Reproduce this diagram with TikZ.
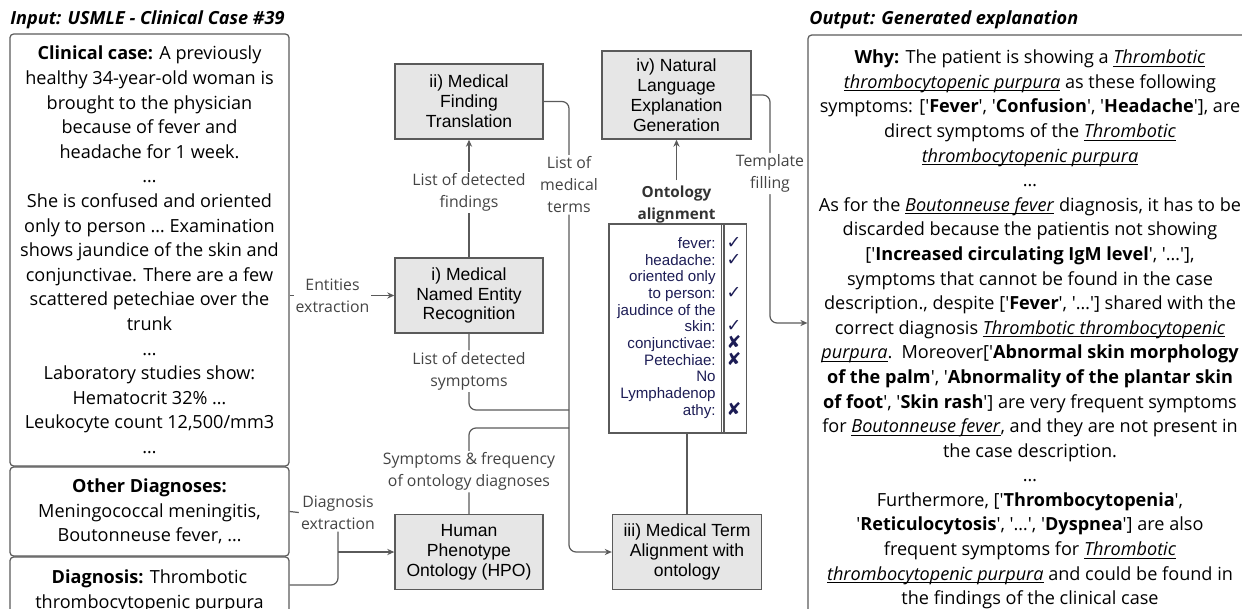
\documentclass[tikz,border=0pt]{standalone}
\usepackage{fontspec}
\setmainfont{Open Sans}[Ligatures=TeXOff]
\newfontfamily\arialfont{Liberation Sans}
\newfontfamily\symfont{DejaVu Sans}
\usetikzlibrary{arrows.meta}

\definecolor{linegray}{HTML}{5A5A5A}
\definecolor{boxfill}{HTML}{E6E6E6}
\definecolor{labelgray}{HTML}{444444}
\definecolor{tabblue}{HTML}{1C1C55}

\newcommand{\sq}{'}
\newcommand{\qb}[1]{\sq\textbf{#1}\sq}
\newcommand{\ulit}[1]{\underline{\smash{\textit{#1}}}}
\newcommand{\cmark}{\smash{\symfont\fontsize{10}{9.5}\selectfont ✓}}
\newcommand{\xmark}{\smash{\symfont\fontsize{10}{9.5}\selectfont ✘}}

\begin{document}
\begin{tikzpicture}[x=0.02cm, y=-0.02cm, >={Stealth[length=4pt,width=3.5pt]}]
\useasboundingbox (0,0) rectangle (1242,609);
\clip (0,0) rectangle (1242,609);

% titles
\node[anchor=west, inner sep=0pt, font=\fontsize{10.3}{13}\selectfont\bfseries\itshape] (intitle) at (10,20) {Input: USMLE - Clinical Case \#39};
\node[anchor=west, inner sep=0pt, font=\fontsize{10.3}{13}\selectfont\bfseries\itshape] (outtitle) at (809,20) {Output: Generated explanation};

% input and output panels
\begin{scope}[every node/.style={draw=linegray, line width=0.7pt, rounded corners=2pt, align=center,
              inner sep=0pt, minimum width=5.58cm, font=\fontsize{10.3}{14}\selectfont}]
	\node[minimum height=8.64cm] (clin) at (149.5,250) {\textbf{Clinical case:} A previously\\
		healthy 34-year-old woman is\\
		brought to the physician\\
		because of fever and\\
		headache for 1 week.\\
		…\\
		She is confused and oriented\\
		only to person … Examination\\
		shows jaundice of the skin and\\
		conjunctivae. There are a few\\
		scattered petechiae over the\\
		trunk\\
		…\\
		Laboratory studies show:\\
		Hematocrit 32\% …\\
		Leukocyte count 12,500/mm3\\
		…};
	\node[minimum height=1.78cm] (oth) at (149.5,511.5) {\textbf{Other Diagnoses:}\\
		Meningococcal meningitis,\\
		Boutonneuse fever, …};
	\node[minimum height=1.38cm] (dia) at (149.5,591.5) {\textbf{Diagnosis:} Thrombotic\\
		thrombocytopenic purpura};
	\node[minimum width=8.88cm, minimum height=11.78cm] (expl) at (1030,329.5) {\textbf{Why:} The patient is showing a \ulit{Thrombotic}\\
		\ulit{thrombocytopenic purpura} as these following\\
		symptoms: [\qb{Fever}, \qb{Confusion}, \qb{Headache}], are\\
		direct symptoms of the \ulit{Thrombotic}\\
		\ulit{thrombocytopenic purpura}\\
		…\\
		As for the \ulit{Boutonneuse fever} diagnosis, it has to be\\
		discarded because the patientis not showing\\
		{[}\qb{Increased circulating IgM level}, \sq…\sq],\\
		symptoms that cannot be found in the case\\
		description., despite [\qb{Fever}, \sq…\sq] shared with the\\
		correct diagnosis \ulit{Thrombotic thrombocytopenic}\\
		\ulit{purpura}.\enspace Moreover[\sq\textbf{Abnormal skin morphology}\\
		\textbf{of the palm}\sq, \sq\textbf{Abnormality of the plantar skin}\\
		\textbf{of foot}\sq, \qb{Skin rash}] are very frequent symptoms\\
		for \ulit{Boutonneuse fever}, and they are not present in\\
		the case description.\\
		…\\
		Furthermore, [\qb{Thrombocytopenia},\\
		\qb{Reticulocytosis}, \sq…\sq, \qb{Dyspnea}] are also\\
		frequent symptoms for \ulit{Thrombotic}\\
		\ulit{thrombocytopenic purpura} and could be found in\\
		the findings of the clinical case};
\end{scope}

% pipeline stages
\begin{scope}[every node/.style={draw=linegray, fill=boxfill, line width=0.8pt, align=center, inner sep=0pt,
              minimum width=2.96cm, minimum height=1.5cm, font=\arialfont\fontsize{10}{11.3}\selectfont}]
	\node (fin) at (469,101.5) {ii) Medical\\Finding\\Translation};
	\node (ner) at (469,295.5) {i) Medical\\Named Entity\\Recognition};
	\node (hpo) at (469,552) {Human\\Phenotype\\Ontology (HPO)};
	\node[minimum width=2.98cm, minimum height=1.76cm] (nleg) at (676.5,95) {iv) Natural\\Language\\Explanation\\Generation};
	\node[minimum width=2.98cm] (mta) at (687,552) {iii) Medical Term\\Alignment with\\ontology};
\end{scope}

% ontology alignment table
\node[font=\bfseries\fontsize{8.7}{12.5}\selectfont, text=black!80, align=center] (ontot) at (676.5,205) {Ontology\\alignment};
\begin{scope}[every node/.style={draw=linegray, line width=0.7pt, inner sep=3pt, minimum height=4.18cm,
              text=tabblue, font=\arialfont\fontsize{8.6}{9.5}\selectfont}]
	\node[minimum width=2.3cm, align=right] (terms) at (666.5,328.5) {\strut fever:\\headache:\\oriented only\\to person:\\jaudince of the\\skin:\\conjunctivae:\\Petechiae:\\No\\Lymphadenop\\athy:\strut};
	\node[minimum width=0.4cm, align=center] (marks) at (734,328.5) {\cmark\strut\\\cmark\strut\\\strut\\\cmark\strut\\\strut\\\cmark\strut\\\xmark\strut\\\xmark\strut\\\strut\\\strut\\\xmark\strut};
\end{scope}

% connectors
\begin{scope}[line width=0.7pt, color=linegray,
              every edge/.style={draw=linegray, line width=0.7pt},
              every node/.style={fill=white, align=center, inner sep=1pt, text=labelgray, font=\fontsize{9}{12.5}\selectfont}]
	\coordinate (bus) at (569,0);
	\coordinate (tf) at (770,0);
	\coordinate (j1) at (569,410);
	\coordinate (j2) at (569,428);
	\node (dxl) at (338,512.5) {Diagnosis\\extraction};

	\path [->] (clin.east |- ner.west) edge node[pos=0.41] {Entities\\extraction} (ner.west);
	\path [->] (ner) edge node[pos=0.55] {List of detected\\findings} (fin);
	\draw [->, rounded corners=4] (fin.east) -- (fin.east -| bus) -- node[pos=0.185] {List of\\medical\\terms} (bus |- mta.west) -- (mta.west);
	\draw [rounded corners=4] (ner.south) |- node[pos=0.245] {List of detected\\symptoms} (j1);
	\draw [rounded corners=4] (hpo.north) |- node[pos=0.245] {Symptoms \& frequency\\of ontology diagnoses} (j2);
	\path [-] (oth.east) edge (dxl.west);
	\draw [rounded corners=4] (dia.east |- 0,585) -| (dxl.south);
	\draw [->] (dxl.south |- hpo.west) -- (hpo.west);
	\path [-] (mta.north) edge (mta.north |- terms.south);
	\path [->] (ontot.north) edge (nleg.south);
	\draw [->, rounded corners=4] (nleg.east) -- (nleg.east -| tf) -- node[pos=0.344] {Template\\filling} (tf |- 0,323) -- (expl.west |- 0,323);
\end{scope}
\end{tikzpicture}
\end{document}
